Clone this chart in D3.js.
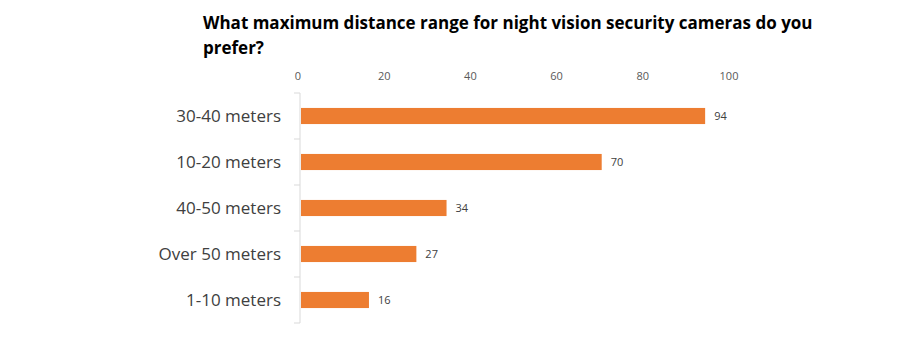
<!DOCTYPE html>
<html>
<head>
<meta charset="utf-8">
<script src="https://cdn.jsdelivr.net/npm/d3@7.9.0/dist/d3.min.js"></script>
<style>
  body { margin: 0; background: #fff; }
  text { font-family: "Open Sans", "Noto Sans", sans-serif; }
</style>
</head>
<body>
<svg id="chart" width="914" height="354"></svg>
<script>
const categories = ["30-40 meters", "10-20 meters", "40-50 meters", "Over 50 meters", "1-10 meters"];
const values = [94, 70, 34, 27, 16];
const xTicks = [0, 20, 40, 60, 80, 100];
const titleLines = ["What maximum distance range for night vision security cameras do you", "prefer?"];

const data = categories.map((c, i) => ({ category: c, value: values[i] }));

const svg = d3.select("#chart");
const margin = { top: 93, left: 300, right: 183, bottom: 31 };
const width = 914 - margin.left - margin.right;
const height = 354 - margin.top - margin.bottom;

const g = svg.append("g")
  .attr("transform", `translate(${margin.left},${margin.top})`);

const x = d3.scaleLinear().domain([0, 100]).range([0, width]);
const y = d3.scaleBand().domain(categories).range([0, height]).paddingInner(0.65).paddingOuter(0.325);

// title, two lines
svg.append("g").selectAll("text")
  .data(titleLines)
  .enter()
  .append("text")
  .attr("x", 203)
  .attr("y", (d, i) => 29 + i * 25)
  .attr("font-size", "17px")
  .attr("font-weight", "bold")
  .attr("fill", "#000")
  .text(d => d);

// top tick labels, no axis line
g.append("g")
  .selectAll("text")
  .data(xTicks)
  .enter()
  .append("text")
  .attr("x", d => x(d) - 2)
  .attr("y", -13)
  .attr("text-anchor", "middle")
  .attr("font-size", "11px")
  .attr("fill", "#595959")
  .text(d => d);

// vertical category axis, ticks between bands
g.append("line")
  .attr("x1", 0).attr("x2", 0)
  .attr("y1", 0).attr("y2", height)
  .attr("stroke", "#d9d9d9");

const step = y.step();
g.selectAll(".tick-mark")
  .data(d3.range(categories.length + 1))
  .enter()
  .append("line")
  .attr("x1", -6).attr("x2", 0)
  .attr("y1", d => d * step).attr("y2", d => d * step)
  .attr("stroke", "#d9d9d9");

g.selectAll(".cat")
  .data(categories)
  .enter()
  .append("text")
  .attr("x", -19)
  .attr("y", d => y(d) + y.bandwidth() / 2)
  .attr("dy", "0.35em")
  .attr("text-anchor", "end")
  .attr("font-size", "17px")
  .attr("fill", "#404040")
  .text(d => d);

// bars
g.selectAll("rect")
  .data(data)
  .enter()
  .append("rect")
  .attr("x", 1)
  .attr("y", d => y(d.category))
  .attr("width", d => x(d.value) - 1)
  .attr("height", y.bandwidth())
  .attr("fill", "#ED7D31");

g.selectAll(".val")
  .data(data)
  .enter()
  .append("text")
  .attr("x", d => x(d.value) + 9)
  .attr("y", d => y(d.category) + y.bandwidth() / 2)
  .attr("dy", "0.35em")
  .attr("font-size", "11px")
  .attr("fill", "#404040")
  .text(d => d.value);
</script>
</body>
</html>
